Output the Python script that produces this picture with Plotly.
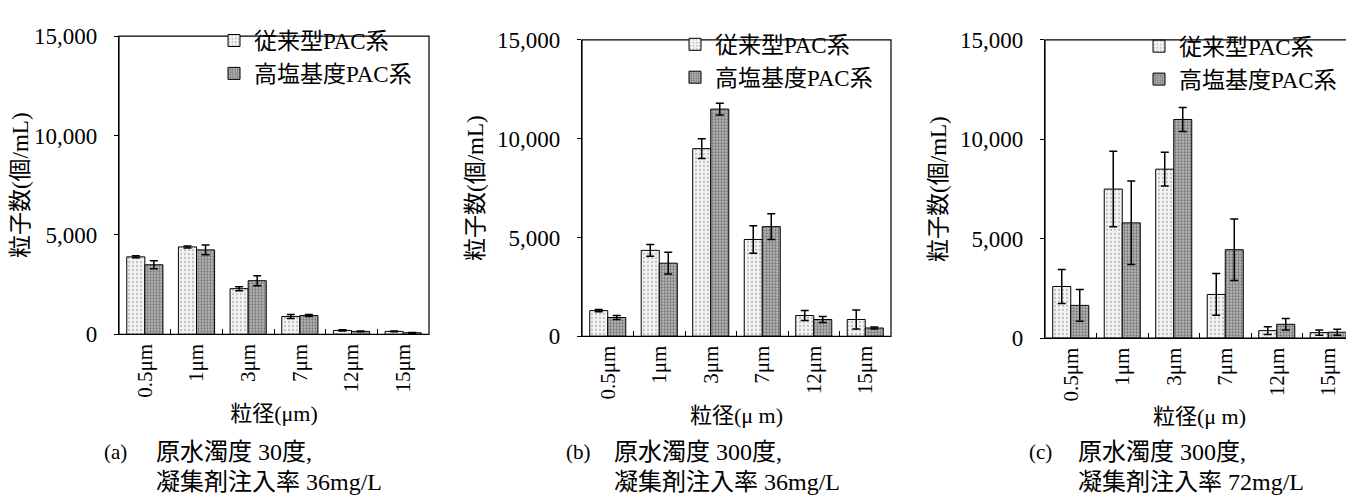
import plotly.graph_objects as go

categories = ["0.5μm", "1μm", "3μm", "7μm", "12μm", "15μm"]
series_names = ["従来型PAC系", "高塩基度PAC系"]

a_conv = [3900, 4400, 2300, 900, 200, 150]
a_conv_err = [50, 50, 100, 100, 30, 20]
a_high = [3500, 4250, 2700, 950, 150, 80]
a_high_err = [200, 250, 250, 50, 20, 20]

b_conv = [1300, 4350, 9500, 4900, 1050, 850]
b_conv_err = [60, 300, 500, 700, 250, 480]
b_high = [950, 3700, 11500, 5550, 850, 420]
b_high_err = [100, 550, 300, 650, 150, 50]

c_conv = [2600, 7500, 8500, 2200, 380, 280]
c_conv_err = [850, 1900, 850, 1050, 190, 130]
c_high = [1650, 5800, 11000, 4450, 700, 300]
c_high_err = [800, 2100, 600, 1550, 290, 150]

y_ticks = [0, 5000, 10000, 15000]
x_titles = ["粒径(μm)", "粒径(μ m)", "粒径(μ m)"]
captions = [("(a)", "原水濁度 30度,", "凝集剤注入率 36mg/L"),
            ("(b)", "原水濁度 300度,", "凝集剤注入率 36mg/L"),
            ("(c)", "原水濁度 300度,", "凝集剤注入率 72mg/L")]

FONT = "Liberation Serif, Noto Sans CJK JP, serif"
W, H = 1354, 498

panels = [(a_conv, a_conv_err, a_high, a_high_err),
          (b_conv, b_conv_err, b_high, b_high_err),
          (c_conv, c_conv_err, c_high, c_high_err)]

# pixel geometry of each plot box (left, right, top, bottom)
boxes = [(111, 421, 17, 331), (574, 883, 21, 333), (1037, 1346, 21, 335)]
legend_pos = [(206, -1), (667, 3), (1131, 5)]
caption_x = [(94, 146), (556, 604), (1019, 1068)]

conv_pattern = dict(shape=".", fgcolor="#8a8a8a", bgcolor="#f4f4f4", size=4, solidity=0.25)
high_pattern = dict(shape=".", fgcolor="#333333", bgcolor="#b8b8b8", size=3, solidity=0.45)

fig = go.Figure()
for i, (conv, conv_err, high, high_err) in enumerate(panels):
    sfx = "" if i == 0 else str(i + 1)
    leg = "legend" if i == 0 else f"legend{i + 1}"
    for k, (name, vals, errs, pat) in enumerate([(series_names[0], conv, conv_err, conv_pattern),
                                                 (series_names[1], high, high_err, high_pattern)]):
        fig.add_trace(go.Bar(
            x=categories, y=vals, name=name,
            xaxis="x" + sfx, yaxis="y" + sfx, legend=leg,
            legendgroup=f"p{i}s{k}",
            marker=dict(color=pat["bgcolor"], pattern=pat,
                        line=dict(color="black", width=1)),
            error_y=dict(type="data", array=errs, color="black",
                         thickness=1.5, width=4),
        ))

layout = dict(
    width=W, height=H, margin=dict(l=0, r=0, t=0, b=0),
    paper_bgcolor="white", plot_bgcolor="white",
    barmode="group", bargap=0.3, bargroupgap=0,
    font=dict(family=FONT, color="black", size=18),
    showlegend=True,
)
annotations = []
shapes = []
for i, (l, r, t, b) in enumerate(boxes):
    sfx = "" if i == 0 else str(i + 1)
    layout["xaxis" + sfx] = dict(
        domain=[l / W, r / W], anchor="y" + sfx,
        showline=True, linecolor="black", linewidth=1.2,
        ticks="inside", ticklen=5, tickcolor="black", tickson="boundaries",
        tickangle=-90, tickfont=dict(family=FONT, size=21),
        title=dict(text=x_titles[i], font=dict(family=FONT, size=22), standoff=8),
        showgrid=False,
    )
    layout["yaxis" + sfx] = dict(
        domain=[(H - b) / H, (H - t) / H], anchor="x" + sfx,
        range=[0, 15000], tickvals=y_ticks, tickformat=",d",
        showline=True, linecolor="black", linewidth=1.2,
        ticks="outside", ticklen=4, tickcolor="black", ticklabelstandoff=12,
        tickfont=dict(family=FONT, size=23),
        title=dict(text="粒子数(個/mL)", font=dict(family=FONT, size=23), standoff=6),
        showgrid=False, zeroline=False,
    )
    shapes.append(dict(type="rect", xref=f"x{sfx} domain", yref=f"y{sfx} domain",
                       x0=0, x1=1, y0=0, y1=1, line=dict(color="black", width=1.2),
                       fillcolor="rgba(0,0,0,0)", layer="above"))
    lx, ly = legend_pos[i]
    layout["legend" if i == 0 else f"legend{i + 1}"] = dict(
        x=lx / W, y=(H - ly) / H, xanchor="left", yanchor="top",
        xref="paper", yref="paper",
        bgcolor="rgba(0,0,0,0)", borderwidth=0,
        font=dict(family=FONT, size=23), tracegroupgap=0, traceorder="grouped",
    )
    cx0, cx1 = caption_x[i]
    lab, line1, line2 = captions[i]
    annotations.append(dict(text=lab, x=cx0 / W, y=(H - 455) / H, xref="paper", yref="paper",
                            xanchor="left", yanchor="middle", showarrow=False,
                            font=dict(family=FONT, size=21)))
    annotations.append(dict(text=line1, x=cx1 / W, y=(H - 455) / H, xref="paper", yref="paper",
                            xanchor="left", yanchor="middle", showarrow=False,
                            font=dict(family=FONT, size=24)))
    annotations.append(dict(text=line2, x=cx1 / W, y=(H - 486) / H, xref="paper", yref="paper",
                            xanchor="left", yanchor="middle", showarrow=False,
                            font=dict(family=FONT, size=24)))
layout["annotations"] = annotations
layout["shapes"] = shapes
fig.update_layout(**layout)
fig.write_html("out.html")
